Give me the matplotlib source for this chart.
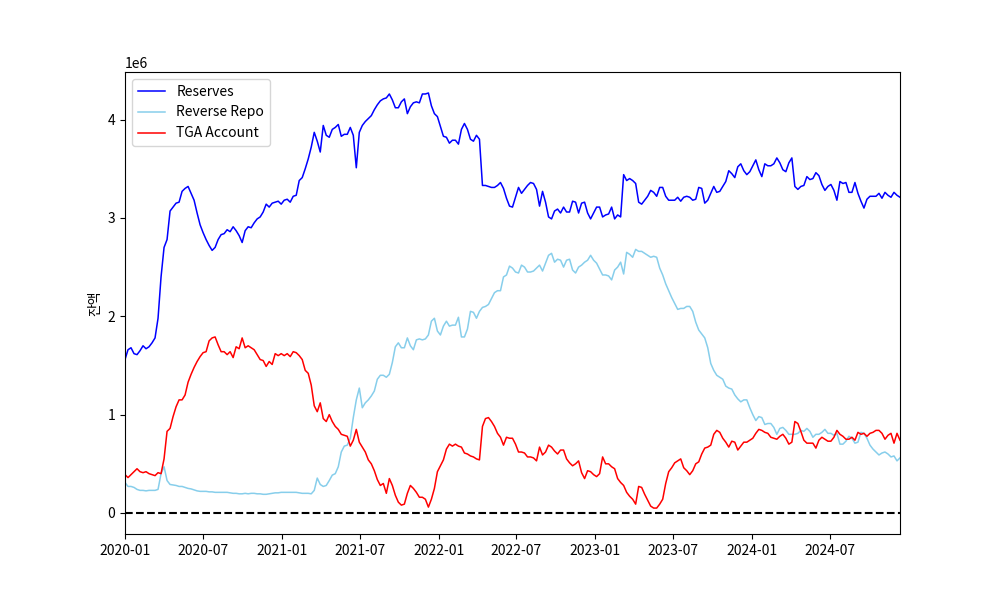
import numpy as np
import pandas as pd
import matplotlib
matplotlib.use("Agg")
import matplotlib.pyplot as plt

plt.rcParams['font.family'] = ['Noto Sans CJK KR', 'DejaVu Sans']
plt.rcParams['axes.unicode_minus'] = False

# weekly (Wednesday) observations, values in millions of USD (x1e6 when drawn)
dates = pd.date_range("2020-01-01", periods=259, freq="7D")

reserves = [
    1.56, 1.66, 1.68, 1.62, 1.61, 1.65, 1.70, 1.67, 1.69, 1.73,
    1.78, 1.98, 2.40, 2.70, 2.78, 3.07, 3.11, 3.15, 3.16, 3.27,
    3.30, 3.32, 3.25, 3.18, 3.05, 2.93, 2.85, 2.78, 2.72, 2.67,
    2.70, 2.78, 2.83, 2.84, 2.88, 2.86, 2.91, 2.87, 2.82, 2.75,
    2.87, 2.91, 2.90, 2.95, 2.99, 3.01, 3.06, 3.14, 3.11, 3.15,
    3.16, 3.17, 3.14, 3.18, 3.19, 3.16, 3.22, 3.23, 3.38, 3.41,
    3.50, 3.60, 3.72, 3.87, 3.78, 3.67, 3.94, 3.84, 3.82, 3.90,
    3.92, 3.95, 3.83, 3.85, 3.85, 3.92, 3.84, 3.51, 3.87, 3.94,
    3.98, 4.01, 4.04, 4.10, 4.15, 4.19, 4.21, 4.22, 4.26, 4.20,
    4.12, 4.12, 4.18, 4.21, 4.06, 4.13, 4.17, 4.18, 4.17, 4.26,
    4.26, 4.27, 4.14, 4.06, 4.03, 3.93, 3.83, 3.82, 3.76, 3.79,
    3.79, 3.75, 3.90, 3.96, 3.90, 3.80, 3.78, 3.84, 3.80, 3.33,
    3.33, 3.32, 3.31, 3.31, 3.33, 3.36, 3.30, 3.20, 3.12, 3.11,
    3.21, 3.31, 3.25, 3.29, 3.33, 3.36, 3.35, 3.29, 3.12, 3.27,
    3.16, 3.01, 2.99, 3.07, 3.09, 3.05, 3.11, 3.06, 3.06, 3.17,
    3.16, 3.05, 3.15, 3.16, 3.05, 2.99, 3.05, 3.11, 3.11, 3.01,
    3.03, 3.04, 3.11, 2.99, 3.03, 3.01, 3.44, 3.38, 3.40, 3.38,
    3.35, 3.16, 3.14, 3.18, 3.22, 3.28, 3.26, 3.22, 3.31, 3.31,
    3.22, 3.18, 3.18, 3.18, 3.21, 3.17, 3.21, 3.22, 3.21, 3.18,
    3.19, 3.31, 3.30, 3.15, 3.18, 3.25, 3.32, 3.26, 3.27, 3.32,
    3.37, 3.48, 3.45, 3.41, 3.52, 3.55, 3.48, 3.44, 3.47, 3.53,
    3.59, 3.49, 3.42, 3.55, 3.53, 3.53, 3.55, 3.61, 3.56, 3.49,
    3.47, 3.56, 3.61, 3.32, 3.29, 3.32, 3.33, 3.42, 3.39, 3.40,
    3.46, 3.43, 3.34, 3.28, 3.32, 3.34, 3.28, 3.18, 3.37, 3.35,
    3.36, 3.26, 3.26, 3.36, 3.25, 3.17, 3.10, 3.19, 3.22, 3.22,
    3.22, 3.25, 3.20, 3.26, 3.23, 3.21, 3.26, 3.23, 3.21,
]

reverse_repo = [
    0.31, 0.27, 0.27, 0.26, 0.24, 0.23, 0.23, 0.225, 0.23, 0.23,
    0.23, 0.24, 0.40, 0.47, 0.33, 0.29, 0.285, 0.28, 0.27, 0.27,
    0.26, 0.25, 0.245, 0.235, 0.225, 0.22, 0.22, 0.22, 0.215, 0.215,
    0.21, 0.21, 0.21, 0.21, 0.21, 0.205, 0.20, 0.20, 0.195, 0.195,
    0.20, 0.195, 0.20, 0.20, 0.195, 0.195, 0.19, 0.19, 0.195, 0.20,
    0.205, 0.205, 0.21, 0.21, 0.21, 0.21, 0.21, 0.21, 0.205, 0.20,
    0.20, 0.20, 0.195, 0.23, 0.355, 0.29, 0.27, 0.28, 0.33, 0.385,
    0.40, 0.47, 0.62, 0.68, 0.69, 0.76, 0.97, 1.15, 1.27, 1.07,
    1.12, 1.15, 1.19, 1.24, 1.36, 1.40, 1.40, 1.38, 1.41, 1.53,
    1.69, 1.73, 1.68, 1.68, 1.78, 1.70, 1.66, 1.76, 1.77, 1.76,
    1.77, 1.81, 1.95, 1.98, 1.85, 1.81, 1.90, 1.95, 1.90, 1.91,
    1.91, 1.99, 1.79, 1.79, 1.87, 2.05, 2.04, 1.98, 2.05, 2.09,
    2.10, 2.12, 2.18, 2.24, 2.26, 2.26, 2.40, 2.42, 2.51, 2.49,
    2.45, 2.44, 2.52, 2.50, 2.45, 2.45, 2.46, 2.49, 2.52, 2.46,
    2.54, 2.62, 2.64, 2.55, 2.58, 2.57, 2.50, 2.57, 2.58, 2.47,
    2.44, 2.50, 2.52, 2.55, 2.57, 2.62, 2.57, 2.54, 2.48, 2.42,
    2.42, 2.41, 2.37, 2.47, 2.50, 2.55, 2.43, 2.65, 2.63, 2.60,
    2.68, 2.66, 2.66, 2.64, 2.62, 2.60, 2.61, 2.60, 2.49, 2.42,
    2.33, 2.26, 2.19, 2.13, 2.07, 2.08, 2.08, 2.10, 2.10, 2.05,
    1.94, 1.86, 1.82, 1.78, 1.68, 1.52, 1.45, 1.40, 1.38, 1.36,
    1.29, 1.27, 1.26, 1.20, 1.16, 1.13, 1.15, 1.15, 1.07, 1.00,
    0.94, 0.98, 0.97, 0.90, 0.91, 0.91, 0.87, 0.80, 0.86, 0.87,
    0.84, 0.80, 0.80, 0.80, 0.81, 0.84, 0.83, 0.86, 0.83, 0.77,
    0.80, 0.80, 0.82, 0.85, 0.81, 0.81, 0.79, 0.81, 0.70, 0.70,
    0.73, 0.78, 0.76, 0.71, 0.72, 0.82, 0.81, 0.76, 0.69, 0.65,
    0.62, 0.59, 0.61, 0.62, 0.60, 0.57, 0.58, 0.53, 0.56,
]

tga = [
    0.39, 0.36, 0.39, 0.42, 0.45, 0.42, 0.41, 0.42, 0.40, 0.39,
    0.38, 0.41, 0.40, 0.55, 0.83, 0.86, 0.98, 1.08, 1.15, 1.15,
    1.20, 1.33, 1.41, 1.48, 1.54, 1.59, 1.63, 1.64, 1.75, 1.78,
    1.79, 1.71, 1.64, 1.64, 1.61, 1.64, 1.58, 1.69, 1.67, 1.78,
    1.68, 1.70, 1.68, 1.66, 1.61, 1.56, 1.55, 1.49, 1.54, 1.51,
    1.62, 1.60, 1.62, 1.60, 1.62, 1.59, 1.64, 1.63, 1.60, 1.56,
    1.45, 1.42, 1.30, 1.09, 1.03, 1.12, 0.96, 0.93, 1.00, 0.93,
    0.88, 0.85, 0.80, 0.79, 0.78, 0.68, 0.74, 0.85, 0.72, 0.67,
    0.62, 0.54, 0.50, 0.43, 0.34, 0.28, 0.30, 0.20, 0.35, 0.28,
    0.18, 0.11, 0.08, 0.09, 0.20, 0.28, 0.25, 0.21, 0.16, 0.16,
    0.14, 0.06, 0.14, 0.25, 0.42, 0.48, 0.54, 0.65, 0.70, 0.68,
    0.70, 0.68, 0.67, 0.61, 0.60, 0.58, 0.57, 0.55, 0.54, 0.88,
    0.96, 0.97, 0.93, 0.88, 0.81, 0.77, 0.69, 0.77, 0.76, 0.76,
    0.70, 0.62, 0.62, 0.61, 0.57, 0.57, 0.56, 0.53, 0.67, 0.59,
    0.62, 0.69, 0.67, 0.63, 0.60, 0.64, 0.64, 0.55, 0.51, 0.48,
    0.50, 0.53, 0.41, 0.35, 0.43, 0.42, 0.39, 0.37, 0.40, 0.57,
    0.50, 0.50, 0.47, 0.45, 0.35, 0.31, 0.28, 0.21, 0.17, 0.14,
    0.09, 0.27, 0.26, 0.19, 0.13, 0.07, 0.05, 0.05, 0.09, 0.14,
    0.30, 0.42, 0.46, 0.51, 0.53, 0.55, 0.46, 0.43, 0.39, 0.43,
    0.50, 0.52, 0.60, 0.66, 0.67, 0.69, 0.80, 0.84, 0.82, 0.76,
    0.72, 0.67, 0.73, 0.72, 0.64, 0.68, 0.72, 0.72, 0.74, 0.76,
    0.81, 0.85, 0.84, 0.82, 0.81, 0.77, 0.76, 0.75, 0.78, 0.80,
    0.76, 0.70, 0.72, 0.93, 0.91, 0.83, 0.74, 0.71, 0.71, 0.71,
    0.66, 0.74, 0.77, 0.75, 0.73, 0.73, 0.77, 0.84, 0.80, 0.78,
    0.75, 0.75, 0.77, 0.74, 0.82, 0.80, 0.81, 0.78, 0.81, 0.82,
    0.84, 0.84, 0.81, 0.75, 0.79, 0.81, 0.71, 0.81, 0.74,
]

res = np.array(reserves) * 1e6
rrp = np.array(reverse_repo) * 1e6
tga_v = np.array(tga) * 1e6

fig, ax = plt.subplots(figsize=(10, 6), dpi=100)

ax.plot(dates, res, color='blue', linewidth=1.1, label='Reserves')
ax.plot(dates, rrp, color='skyblue', linewidth=1.1, label='Reverse Repo')
ax.plot(dates, tga_v, color='red', linewidth=1.1, label='TGA Account')
ax.axhline(0, color='black', linestyle='--', linewidth=1.5)

# y range covers the zero line plus the usual 5% margin
top = max(res.max(), rrp.max(), tga_v.max())
ax.set_ylim(-0.05 * top, 1.05 * top)
ax.set_xlim(dates[0], dates[-1])
ax.set_ylabel('잔액')
ax.legend(loc='upper left')

fig.savefig('out.png', dpi=100)
